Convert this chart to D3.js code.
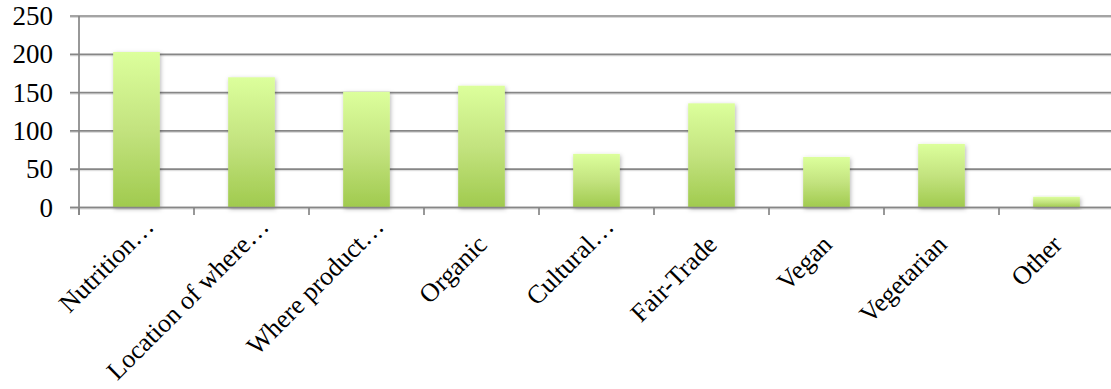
<!DOCTYPE html>
<html>
<head>
<meta charset="utf-8">
<script src="https://cdn.jsdelivr.net/npm/d3@7"></script>
<style>
  html, body { margin: 0; padding: 0; background: #fff; }
  svg { display: block; }
  text { font-family: "Liberation Serif", "DejaVu Serif", serif; fill: #000; }
</style>
</head>
<body>
<svg id="chart" width="1111" height="389"></svg>
<script>
// Responses per label category
const categories = [
  "Nutrition…", "Location of where…", "Where product…", "Organic",
  "Cultural…", "Fair-Trade", "Vegan", "Vegetarian", "Other"
];
const counts = [203, 170, 151, 159, 70, 136, 66, 83, 14];
const yTicks = [0, 50, 100, 150, 200, 250];

const svg = d3.select("#chart");
const plotLeft = 79, plotRight = 1114, plotTop = 16, plotBottom = 207.5;

const x = d3.scaleBand().domain(categories).range([plotLeft, plotRight]).padding(0);
const y = d3.scaleLinear().domain([0, 250]).range([plotBottom, plotTop]);

const defs = svg.append("defs");
const grad = defs.append("linearGradient")
  .attr("id", "barFill").attr("x1", 0).attr("y1", 0).attr("x2", 0).attr("y2", 1);
grad.append("stop").attr("offset", "0%").attr("stop-color", "#dcff9c");
grad.append("stop").attr("offset", "50%").attr("stop-color", "#c3e37f");
grad.append("stop").attr("offset", "100%").attr("stop-color", "#a0ca4e");

const shadow = defs.append("filter").attr("id", "barShadow")
  .attr("x", "-30%").attr("y", "-10%").attr("width", "160%").attr("height", "130%");
shadow.append("feDropShadow")
  .attr("dx", 1).attr("dy", 1.5).attr("stdDeviation", 2.2)
  .attr("flood-color", "#000").attr("flood-opacity", 0.28);

// Horizontal gridlines with y-axis tick stubs
const grid = svg.append("g");
grid.selectAll("line.shade").data(yTicks).join("line")
  .attr("class", "shade")
  .attr("x1", plotLeft - 9).attr("x2", plotRight)
  .attr("y1", d => y(d) + 1.5).attr("y2", d => y(d) + 1.5)
  .attr("stroke", "#d8d8d8").attr("stroke-width", 1);
grid.selectAll("line.main").data(yTicks).join("line")
  .attr("class", "main")
  .attr("x1", plotLeft - 9).attr("x2", plotRight)
  .attr("y1", d => y(d)).attr("y2", d => y(d))
  .attr("stroke", "#868686").attr("stroke-width", 1.7);

// Vertical axis line
svg.append("line")
  .attr("x1", plotLeft).attr("x2", plotLeft).attr("y1", plotTop).attr("y2", plotBottom + 7.5)
  .attr("stroke", "#868686").attr("stroke-width", 1.7);

// Category boundary ticks under the baseline
const boundaries = categories.map(c => x(c)).concat([plotRight]);
svg.append("g").selectAll("line").data(boundaries).join("line")
  .attr("x1", d => d).attr("x2", d => d)
  .attr("y1", plotBottom).attr("y2", plotBottom + 7.5)
  .attr("stroke", "#868686").attr("stroke-width", 1.7);

// Bars
const barW = x.bandwidth() * 0.406;
svg.append("g").selectAll("rect").data(categories).join("rect")
  .attr("x", c => x(c) + (x.bandwidth() - barW) / 2)
  .attr("y", (c, i) => y(counts[i]))
  .attr("width", barW)
  .attr("height", (c, i) => y(0) - y(counts[i]))
  .attr("fill", "url(#barFill)")
  .attr("filter", "url(#barShadow)");

// Redraw baseline over the bar feet
svg.append("line")
  .attr("x1", plotLeft - 9).attr("x2", plotRight).attr("y1", plotBottom).attr("y2", plotBottom)
  .attr("stroke", "#868686").attr("stroke-width", 1.7);

// Y tick labels
svg.append("g").selectAll("text").data(yTicks).join("text")
  .attr("x", 53).attr("y", d => y(d))
  .attr("dy", "0.34em")
  .attr("text-anchor", "end")
  .attr("font-size", 27)
  .text(d => d);

// Rotated category labels; truncated ones sit further along their baseline
svg.append("g").selectAll("text").data(categories).join("text")
  .attr("transform", c => `translate(${x(c) + x.bandwidth() / 2 + 7},246) rotate(-45)`)
  .attr("dx", c => c.endsWith("…") ? 21 : 0)
  .attr("dy", c => c.endsWith("…") ? -4.2 : 0)
  .attr("text-anchor", "end")
  .attr("font-size", 26)
  .text(c => c);
</script>
</body>
</html>
